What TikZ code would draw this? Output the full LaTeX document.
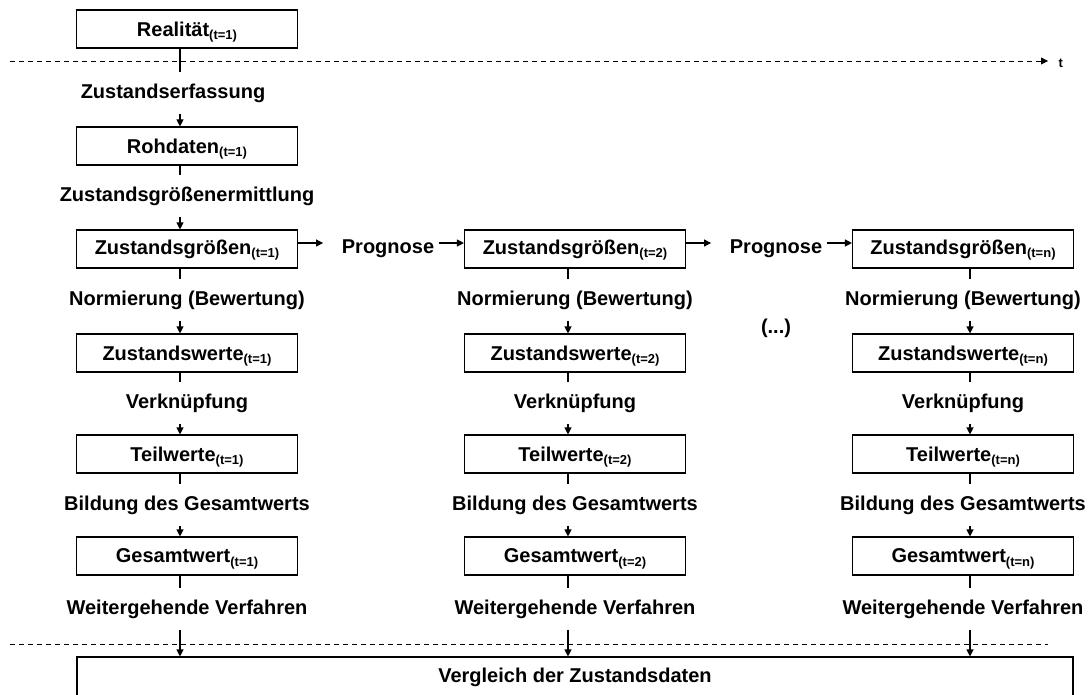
\documentclass[tikz,border=0pt]{standalone}
\usepackage{fontspec}
\setmainfont{Liberation Sans}
\usetikzlibrary{arrows.meta}
\newcommand{\zeit}[1]{\raisebox{-3.5pt}[0pt][0pt]{\fontsize{13}{13}\selectfont(t=#1)}}

\begin{document}
\begin{tikzpicture}[x=1pt,y=-1pt,
  font=\fontsize{20}{24}\selectfont\bfseries,
  line width=1.1pt,
  >={Triangle[length=7pt,width=7pt]},
  box/.style={draw, minimum width=221pt, minimum height=38pt, inner sep=0pt},
  lbl/.style={minimum height=40pt, inner sep=0pt},
  hoch/.style={yshift=6pt}]
  \useasboundingbox (0,0) rectangle (1089,695);
  \clip (0,0) rectangle (1089,695);
  \coordinate (x1) at (180,0);
  \coordinate (x2) at (568,0);
  \coordinate (xn) at (970,0);
  \node[box] at (187,29) (real) {Realität\zeit{1}};
  \node[lbl] at (173,93) (erf) {Zustandserfassung};
  \node[box] at (187,146) (roh) {Rohdaten\zeit{1}};
  \node[lbl] at (187,196) (erm) {Zustandsgrößenermittlung};
  \foreach \c/\x in {1/187,2/575,n/963} {
    \node[box] at (\x,249) (gr\c) {Zustandsgrößen\zeit{\c}};
    \node[lbl] at (\x,300) (nor\c) {Normierung (Bewertung)};
    \node[box] at (\x,353) (zw\c) {Zustandswerte\zeit{\c}};
    \node[lbl] at (\x,403) (ver\c) {Verknüpfung};
    \node[box] at (\x,454) (tw\c) {Teilwerte\zeit{\c}};
    \node[lbl] at (\x,505) (bil\c) {Bildung des Gesamtwerts};
    \node[box] at (\x,556) (gw\c) {Gesamtwert\zeit{\c}};
    \node[lbl] at (\x,609) (wei\c) {Weitergehende Verfahren};
  }
  \node[draw, minimum width=996pt, minimum height=40pt, inner sep=0pt] at (575,677) (vgl) {Vergleich der Zustandsdaten};
  \node[inner sep=4pt] at (388,249) (p1) {Prognose};
  \node[inner sep=4pt] at (776,249) (p2) {Prognose};
  \node at (776,328) (dots) {(...)};
  % Zeitachse
  \coordinate (d0) at (10,61);
  \node[inner sep=0pt, anchor=west, font=\fontsize{13}{13}\selectfont\bfseries] at (1058,63) (t) {t};
  \draw[line width=0.8pt, dash pattern=on 5pt off 4pt, ->, shorten >=10pt] (d0) -- (d0 -| t.west);
  \coordinate (e0) at (10,644);
  \coordinate (e1) at (1048,644);
  \draw[line width=0.8pt, dash pattern=on 5pt off 4pt] (e0) -- (e1);
  \draw (real.south -| x1) -- (erf.north -| x1);
  \draw[->] (erf.south -| x1) -- (roh.north -| x1);
  \draw (roh.south -| x1) -- (erm.north -| x1);
  \draw[->] (erm.south -| x1) -- (gr1.north -| x1);
  \foreach \c in {1,2,n} {
    \foreach \a/\b in {gr/nor,zw/ver,tw/bil,gw/wei} \draw (\a\c.south -| x\c) -- (\b\c.north -| x\c);
    \foreach \a/\b in {nor/zw,ver/tw,bil/gw} \draw[->] (\a\c.south -| x\c) -- (\b\c.north -| x\c);
    \draw[->] (wei\c.south -| x\c) -- (vgl.north -| x\c);
  }
  \draw[->] ([hoch]gr1.east) -- ++(25,0);
  \draw[->] ([hoch]p1.east) -- ([hoch]gr2.west);
  \draw[->] ([hoch]gr2.east) -- ++(25,0);
  \draw[->] ([hoch]p2.east) -- ([hoch]grn.west);
\end{tikzpicture}
\end{document}
